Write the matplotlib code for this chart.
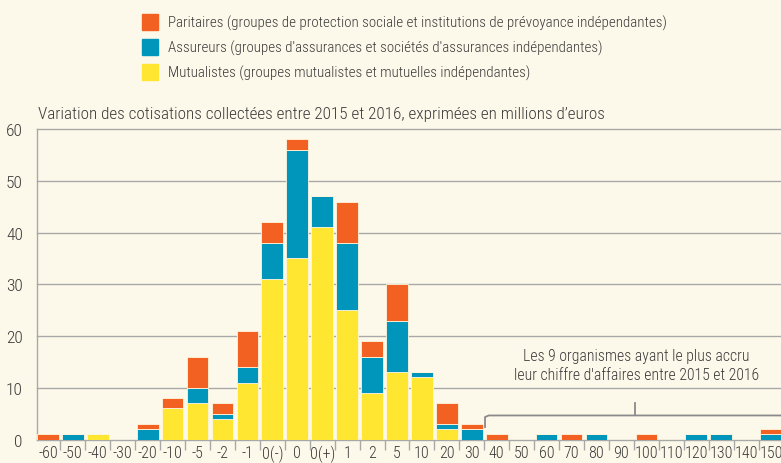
import numpy as np
import matplotlib
matplotlib.use("Agg")
import matplotlib.pyplot as plt
from matplotlib.patches import Rectangle

categories = ["-60", "-50", "-40", "-30", "-20", "-10", "-5", "-2", "-1", "0(-)", "0", "0(+)",
              "1", "2", "5", "10", "20", "30", "40", "50", "60", "70", "80", "90", "100",
              "110", "120", "130", "140", "150"]
mutualistes = [0, 0, 1, 0, 0, 6, 7, 4, 11, 31, 35, 41, 25, 9, 13, 12, 2, 0, 0, 0, 0, 0, 0, 0, 0, 0, 0, 0, 0, 0]
assureurs   = [0, 1, 0, 0, 2, 0, 3, 1, 3, 7, 21, 6, 13, 7, 10, 1, 1, 2, 0, 0, 1, 0, 1, 0, 0, 0, 1, 1, 0, 1]
paritaires  = [1, 0, 0, 0, 1, 2, 6, 2, 7, 4, 2, 0, 8, 3, 7, 0, 4, 1, 1, 0, 0, 1, 0, 0, 1, 0, 0, 0, 0, 1]
yticks = [0, 10, 20, 30, 40, 50, 60]

legend_labels = [
    "Paritaires (groupes de protection sociale et institutions de prévoyance indépendantes)",
    "Assureurs (groupes d'assurances et sociétés d'assurances indépendantes)",
    "Mutualistes (groupes mutualistes et mutuelles indépendantes)",
]
title = "Variation des cotisations collectées entre 2015 et 2016, exprimées en millions d\u2019euros"
note = "Les 9 organismes ayant le plus accru\nleur chiffre d'affaires entre 2015 et 2016"

C_ORANGE = "#F26122"
C_BLUE = "#0096BB"
C_YELLOW = "#FEE631"
BG = "#FDF9EA"
GRID = "#A8A8A8"
TXT = "#3A3A3A"

plt.rcParams["font.family"] = ["Roboto Condensed", "DejaVu Sans"]
FW = "light"

fig = plt.figure(figsize=(7.81, 4.64), dpi=100, facecolor=BG)
ax = fig.add_axes([0.047, 0.0506, 0.953, 0.669])
ax.set_facecolor(BG)

x = np.arange(len(categories))
m = np.array(mutualistes)
a = np.array(assureurs)
p = np.array(paritaires)
w = 0.87
ec = "#FFF6DC"
ax.bar(x, m, w, color=C_YELLOW, edgecolor=ec, linewidth=0.6, zorder=3)
ax.bar(x, a, w, bottom=m, color=C_BLUE, edgecolor=ec, linewidth=0.6, zorder=3)
ax.bar(x, p, w, bottom=m + a, color=C_ORANGE, edgecolor=ec, linewidth=0.6, zorder=3)

ax.set_xlim(-0.45, 29.4)
ax.set_ylim(0, 60)
ax.set_yticks(yticks)
ax.set_yticklabels([str(v) for v in yticks], fontsize=12.5, color=TXT, fontweight=FW)
ax.tick_params(axis="y", length=0, pad=10)
for v in yticks[1:]:
    ax.axhline(v, color=GRID, lw=1.0, zorder=1, clip_on=False)

ax.set_xticks(x)
ax.set_xticklabels(categories, fontsize=11.5, color=TXT, fontweight=FW)
ax.tick_params(axis="x", length=0, pad=4)
ax.set_xticks(x[:-1] + 0.5, minor=True)
ax.tick_params(axis="x", which="minor", length=7, color=GRID, width=1)

for s in ["top", "right"]:
    ax.spines[s].set_visible(False)
for s in ["left", "bottom"]:
    ax.spines[s].set_color(GRID)
    ax.spines[s].set_linewidth(1.0)

# brace
bx0, bxm, by, bylo, byhi = 17.53, 23.55, 4.65, 2.4, 7.0
ax.plot([bx0, bx0, bx0 + 0.15, 30.5], [bylo, by - 0.3, by, by], color="#8A8A8A", lw=1.3, zorder=4, clip_on=True)
ax.plot([bxm, bxm], [by, byhi], color="#8A8A8A", lw=1.3, zorder=4)
ax.text(23.6, 14.4, note, ha="center", va="center", fontsize=11.3, color=TXT,
        linespacing=1.3, fontweight=FW)

# title
fig.text(37.5 / 781, 1 - 115 / 464, title, ha="left", va="center", fontsize=12.3, color=TXT,
         fontweight=FW)

# legend
cols = [C_ORANGE, C_BLUE, C_YELLOW]
ys = [23, 48, 73]
for col, lab, yy in zip(cols, legend_labels, ys):
    fig.patches.append(Rectangle((141.5 / 781, 1 - (yy + 8) / 464), 16 / 781, 16 / 464,
                                 transform=fig.transFigure, color=col, figure=fig))
    fig.text(167.5 / 781, 1 - yy / 464, lab, ha="left", va="center", fontsize=10.85, color=TXT,
             fontweight=FW)

fig.savefig("out.png", dpi=100, facecolor=BG)
